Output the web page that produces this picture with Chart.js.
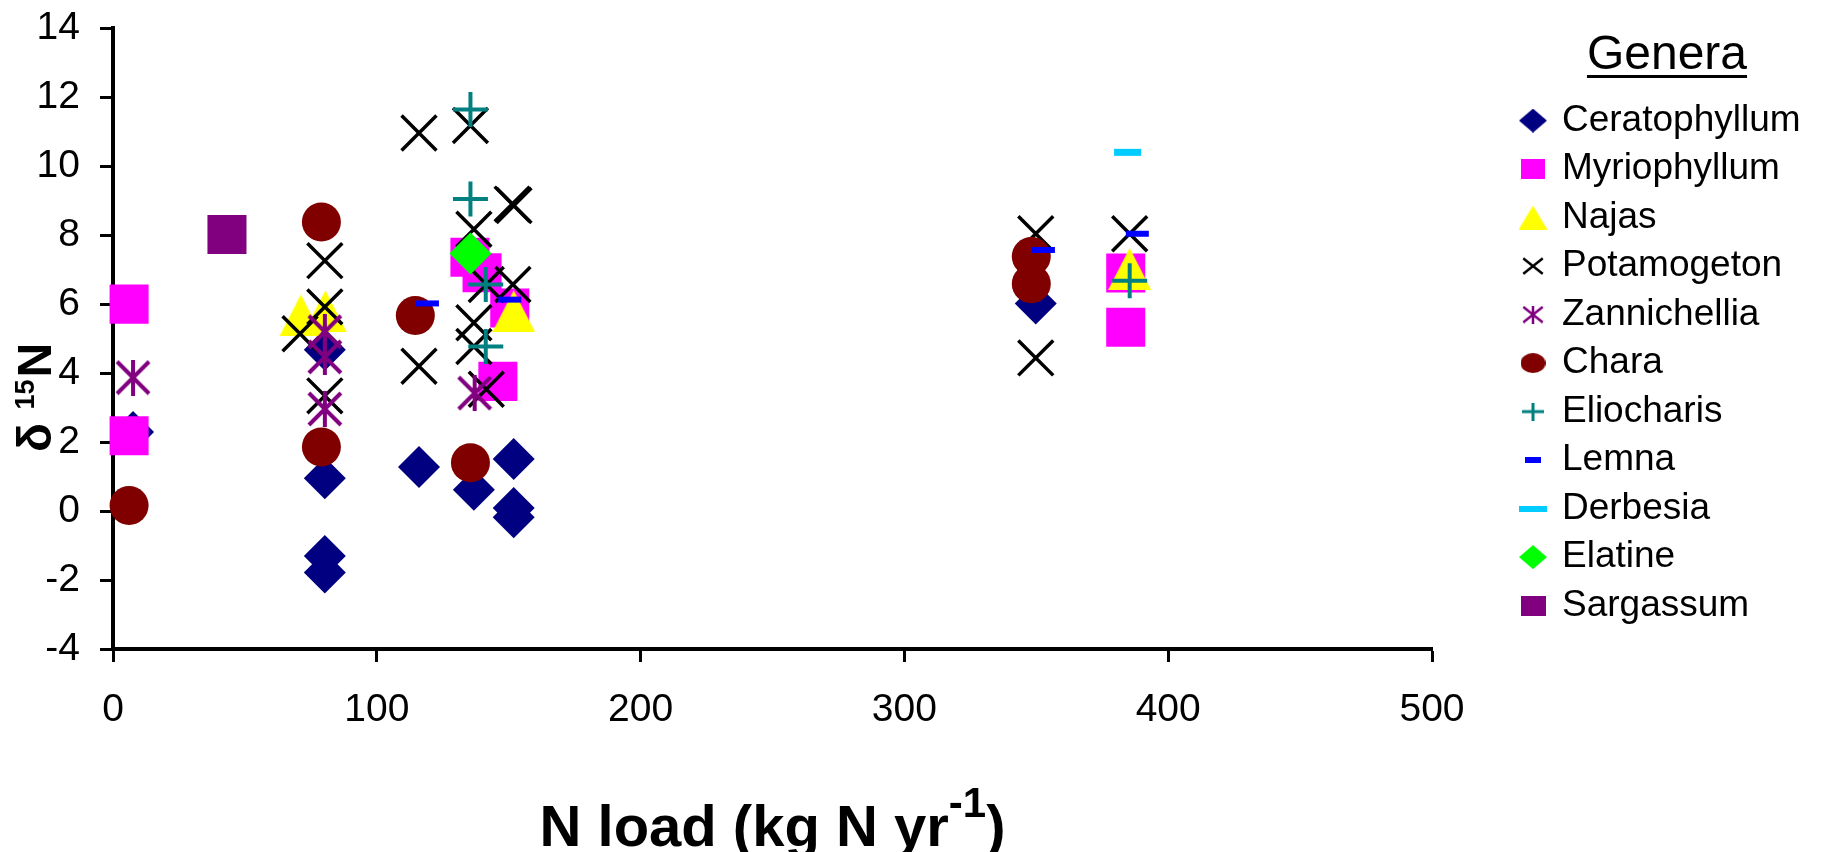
<!DOCTYPE html>
<html>
<head>
<meta charset="utf-8">
<script src="https://cdn.jsdelivr.net/npm/chart.js@4.4.1/dist/chart.umd.min.js"></script>
<style>
html, body { margin: 0; padding: 0; background: #fff; }
</style>
</head>
<body>
<canvas id="myChart" width="1842" height="852"></canvas>
<script>
// values: [N load, d15N]
const genera = ['Ceratophyllum', 'Myriophyllum', 'Najas', 'Potamogeton', 'Zannichellia', 'Chara', 'Eliocharis', 'Lemna', 'Derbesia', 'Elatine', 'Sargassum'];

const ceratophyllum = [[7.6, 2.29], [80.3, 4.68], [80.3, 0.95], [80.3, -1.30], [80.3, -1.78], [116, 1.28], [136.8, 0.62], [151.9, 1.51], [151.9, 0.09], [151.9, -0.18], [349.8, 6.02]];
const myriophyllum = [[6.1, 6.0], [6.1, 2.18], [135.3, 7.36], [139.9, 6.91], [150.4, 5.89], [145.9, 3.76], [383.9, 6.9], [383.9, 5.33]];
const najas = [[71.2, 5.67], [80.5, 5.79], [151.9, 5.79], [385.4, 7.02]];
const potamogeton = [[80.3, 7.26], [80.3, 5.92], [70.9, 5.14], [80.3, 3.34], [116, 10.96], [135.5, 11.18], [136.8, 8.17], [151.3, 8.9], [152, 8.86], [141.5, 6.57], [151.6, 6.57], [136.8, 5.46], [136.8, 4.77], [116, 4.2], [141.5, 3.53], [349.8, 8.04], [385.4, 8.04], [349.8, 4.44]];
const zannichellia = [[7.6, 3.87], [80.3, 5.2], [80.3, 4.47], [80.3, 2.96], [137.1, 3.42]];
const chara = [[6.1, 0.16], [79, 8.38], [79, 1.86], [114.6, 5.67], [135.5, 1.40], [348.1, 7.38], [348.1, 6.59]];
const eliocharis = [[135.5, 11.64], [135.5, 9.05], [141.3, 6.57], [141.3, 4.77], [385.4, 6.68]];
const lemna = [[119.2, 6.02], [150.4, 6.13], [352.7, 7.57], [388.3, 8.04]];
const derbesia = [[384.6, 10.4]];
const elatine = [[135.5, 7.47]];
const sargassum = [[43.2, 8.02]];

const xTicks = [0, 100, 200, 300, 400, 500];
const yTicks = [-4, -2, 0, 2, 4, 6, 8, 10, 12, 14];
const xTitle = ['N load (kg N yr', '-1', ')'];
const yTitle = ['\u03B4', '15', 'N'];
const legendTitle = 'Genera';

const FONT = '"Liberation Sans", Arial, sans-serif';
const LEGEND_W = 312;

// little canvases for the marker shapes Chart.js does not have
function markerCanvas(w, h, draw) {
    let c = document.createElement('canvas');
    c.width = w;
    c.height = h;
    draw(c.getContext('2d'), w, h);
    return c;
}
function diamond(color, w, h) {
    return markerCanvas(w, h, (g) => {
        g.fillStyle = color;
        g.beginPath();
        g.moveTo(w / 2, 0); g.lineTo(w, h / 2); g.lineTo(w / 2, h); g.lineTo(0, h / 2);
        g.closePath(); g.fill();
    });
}
function box(color, w, h) {
    return markerCanvas(w, h, (g) => { g.fillStyle = color; g.fillRect(0, 0, w, h); });
}
function triangle(color, w, h) {
    return markerCanvas(w, h, (g) => {
        g.fillStyle = color;
        g.beginPath();
        g.moveTo(w / 2, 0); g.lineTo(w, h); g.lineTo(0, h);
        g.closePath(); g.fill();
    });
}
function strokes(color, w, h, lw, kind) {
    return markerCanvas(w, h, (g) => {
        g.strokeStyle = color;
        g.lineWidth = lw;
        let m = lw / 2;
        g.beginPath();
        if (kind === 'x' || kind === 'star') {
            g.moveTo(m, m); g.lineTo(w - m, h - m);
            g.moveTo(w - m, m); g.lineTo(m, h - m);
        }
        if (kind === 'star' || kind === 'plus') {
            g.moveTo(w / 2, 0); g.lineTo(w / 2, h);
        }
        if (kind === 'plus' || kind === 'dash') {
            g.moveTo(0, h / 2); g.lineTo(w, h / 2);
        }
        g.stroke();
    });
}
function ellipse(color, w, h) {
    return markerCanvas(w, h, (g) => {
        g.fillStyle = color;
        g.beginPath();
        g.ellipse(w / 2, h / 2, w / 2, h / 2, 0, 0, Math.PI * 2);
        g.fill();
    });
}

const najasImg = triangle('#ffff00', 43, 42);
const starImg = strokes('#800080', 36, 36, 4, 'star');

const legendImgs = [
    diamond('#000080', 28, 24),
    box('#ff00ff', 24, 20),
    triangle('#ffff00', 29, 24),
    strokes('#000000', 22, 18, 2.5, 'x'),
    strokes('#800080', 22, 18, 2.5, 'star'),
    ellipse('#800000', 25, 20),
    strokes('#008080', 22, 18, 3, 'plus'),
    strokes('#0000ff', 16, 6, 6, 'dash'),
    strokes('#00ccff', 28, 6, 6, 'dash'),
    diamond('#00ff00', 28, 24),
    box('#800080', 25, 20)
];

function series(i, pts, style) {
    return Object.assign({
        label: genera[i],
        data: pts.map(p => ({ x: p[0], y: p[1] })),
        showLine: false,
        clip: false,
        order: -i,
        pointBorderWidth: 0
    }, style);
}

const datasets = [
    series(0, ceratophyllum, { pointStyle: 'rectRot', pointRadius: 21, pointBackgroundColor: '#000080' }),
    series(1, myriophyllum, { pointStyle: 'rect', pointRadius: 27.6, pointBackgroundColor: '#ff00ff' }),
    series(2, najas, { pointStyle: najasImg, pointRadius: 21, pointBackgroundColor: '#ffff00' }),
    series(3, potamogeton, { pointStyle: 'crossRot', pointRadius: 24.7, pointBorderColor: '#000000', pointBorderWidth: 3.5 }),
    series(4, zannichellia, { pointStyle: starImg, pointRadius: 18, pointBackgroundColor: '#800080' }),
    series(5, chara, { pointStyle: 'circle', pointRadius: 19.5, pointBackgroundColor: '#800000' }),
    series(6, eliocharis, { pointStyle: 'cross', pointRadius: 17.5, pointBorderColor: '#008080', pointBorderWidth: 4 }),
    series(7, lemna, { pointStyle: 'line', pointRadius: 11.5, pointBorderColor: '#0000ff', pointBorderWidth: 6 }),
    series(8, derbesia, { pointStyle: 'line', pointRadius: 13.5, pointBorderColor: '#00ccff', pointBorderWidth: 7 }),
    series(9, elatine, { pointStyle: 'rectRot', pointRadius: 21, pointBackgroundColor: '#00ff00' }),
    series(10, sargassum, { pointStyle: 'rect', pointRadius: 27.6, pointBackgroundColor: '#800080' })
];

// keep the legend box a fixed width so its title sits where it should
const legendWidth = {
    id: 'legendWidth',
    beforeLayout(chart) {
        let lg = chart.legend;
        if (lg && !lg._fixedW) {
            let fit = lg.fit;
            lg.fit = function() {
                fit.call(this);
                this.width = LEGEND_W;
            };
            lg._fixedW = true;
        }
    }
};

// axis titles with superscripts, and the underline under the legend title
const titlesPlugin = {
    id: 'titlesPlugin',
    afterDraw(chart) {
        let ctx = chart.ctx;
        let area = chart.chartArea;
        ctx.save();
        ctx.fillStyle = '#000';
        ctx.textAlign = 'left';
        ctx.textBaseline = 'alphabetic';

        let big = 'bold 58px ' + FONT;
        let small = 'bold 42px ' + FONT;
        ctx.font = big;
        let w1 = ctx.measureText(xTitle[0]).width;
        let w3 = ctx.measureText(xTitle[2]).width;
        ctx.font = small;
        let w2 = ctx.measureText(xTitle[1]).width;
        let x = (area.left + area.right) / 2 - (w1 + w2 + w3) / 2;
        ctx.font = big;
        ctx.fillText(xTitle[0], x, 846);
        ctx.font = small;
        ctx.fillText(xTitle[1], x + w1, 817);
        ctx.font = big;
        ctx.fillText(xTitle[2], x + w1 + w2, 846);

        ctx.save();
        ctx.translate(51, 452);
        ctx.rotate(-Math.PI / 2);
        ctx.font = 'bold 48px ' + FONT;
        ctx.fillText(yTitle[0], 0, 0);
        let p = ctx.measureText(yTitle[0] + ' ').width;
        ctx.font = 'bold 27px ' + FONT;
        ctx.fillText(yTitle[1], p, -17);
        p += ctx.measureText(yTitle[1]).width + 2;
        ctx.font = 'bold 48px ' + FONT;
        ctx.fillText(yTitle[2], p, 0);
        ctx.restore();

        let lg = chart.legend;
        ctx.font = '48px ' + FONT;
        let tw = ctx.measureText(legendTitle).width;
        let cx = lg.left + lg.width / 2;
        ctx.fillRect(cx - tw / 2, 75, tw, 3);
        ctx.restore();
    }
};

new Chart(document.getElementById('myChart'), {
    type: 'scatter',
    data: { datasets: datasets },
    options: {
        responsive: false,
        animation: false,
        events: [],
        layout: { padding: { top: 22, right: 19, bottom: 0, left: 0 } },
        scales: {
            x: {
                type: 'linear',
                position: 'bottom',
                min: xTicks[0],
                max: xTicks[xTicks.length - 1],
                ticks: { stepSize: 100, color: '#000', padding: 29, maxRotation: 0, autoSkip: false,
                    font: { family: FONT, size: 39, lineHeight: 1 } },
                grid: { drawOnChartArea: false, tickLength: 13, tickWidth: 3, tickColor: '#000' },
                border: { color: '#000', width: 4 },
                afterFit(s) { s.height = 203; }
            },
            y: {
                type: 'linear',
                position: 'left',
                min: yTicks[0],
                max: yTicks[yTicks.length - 1],
                ticks: { stepSize: 2, color: '#000', padding: 20,
                    font: { family: FONT, size: 39, lineHeight: 0.05 } },
                grid: { drawOnChartArea: false, tickLength: 13, tickWidth: 3, tickColor: '#000' },
                border: { color: '#000', width: 4 },
                afterFit(s) { s.width = 113; }
            },
            gap: {
                type: 'linear',
                position: 'right',
                grid: { display: false },
                border: { display: false },
                ticks: { display: false },
                afterFit(s) { s.width = 79; }
            }
        },
        plugins: {
            tooltip: { enabled: false },
            legend: {
                position: 'right',
                align: 'start',
                title: { display: true, text: legendTitle, color: '#000',
                    font: { family: FONT, size: 48 }, padding: { top: 10, bottom: 1 } },
                labels: {
                    usePointStyle: true,
                    boxWidth: 21,
                    padding: 11.5,
                    color: '#000',
                    font: { family: FONT, size: 37 },
                    generateLabels(chart) {
                        return chart.data.datasets.map((d, i) => ({
                            text: d.label,
                            fillStyle: '#000',
                            strokeStyle: '#000',
                            lineWidth: 0,
                            pointStyle: legendImgs[i],
                            hidden: false,
                            datasetIndex: i,
                            fontColor: '#000'
                        }));
                    }
                }
            }
        }
    },
    plugins: [legendWidth, titlesPlugin]
});
</script>
</body>
</html>
